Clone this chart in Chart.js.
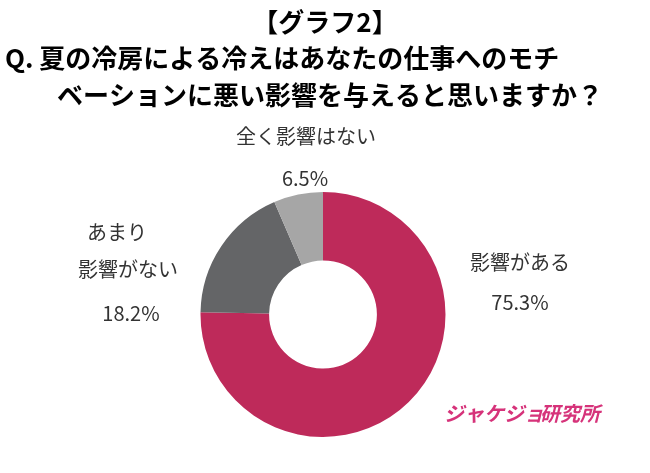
<!DOCTYPE html><html><head><meta charset="utf-8">
<script src="https://cdn.jsdelivr.net/npm/chart.js@4"></script>
<style>html,body{margin:0;padding:0;background:#fff}</style></head>
<body><div style="width:650px;height:473px"><canvas id="c"></canvas></div>
<script>
const categories=["影響がある","あまり影響がない","全く影響はない"];
const values=[75.3,18.2,6.5];
const colors=["#BE2A5A","#646567","#A6A6A6"];
const titleLines=["【グラフ2】","Q. 夏の冷房による冷えはあなたの仕事へのモチ","ベーションに悪い影響を与えると思いますか？"];
const F='"Noto Sans CJK JP","Noto Sans",sans-serif';
const textPlugin={id:'txt',afterDraw(ch){
 const c=ch.ctx;c.save();c.fillStyle='#000';c.textBaseline='middle';
 c.font='bold 26px '+F;c.textAlign='center';
 c.fillText(titleLines[0],325,22);
 c.textAlign='left';c.fillText(titleLines[1],5,58);c.fillText(titleLines[2],57,95);
 c.font='20px '+F;c.fillStyle='#333';c.textAlign='center';
 c.fillText("全く影響はない",306,136);c.fillText(values[2]+"%",305,178);
 c.fillText("あまり",117,232);c.fillText("影響がない",128,269);c.fillText(values[1]+"%",131,313);
 c.fillText("影響がある",520,262);c.fillText(values[0]+"%",520,302);
 c.font='italic bold 20px '+F;c.fillStyle='#D6337A';c.textAlign='left';
 c.fillText("ジャケジョ",444,413);c.fillText("研究所",540,413);
 c.restore();}};
new Chart(document.getElementById('c'),{type:'doughnut',
 data:{labels:categories,datasets:[{data:values,backgroundColor:colors,borderWidth:0}]},
 options:{responsive:true,maintainAspectRatio:false,animation:false,cutout:'44%',
  layout:{padding:{top:192,bottom:36,left:100,right:104}},
  plugins:{legend:{display:false},tooltip:{enabled:false}}},
 plugins:[textPlugin]});
</script></body></html>
